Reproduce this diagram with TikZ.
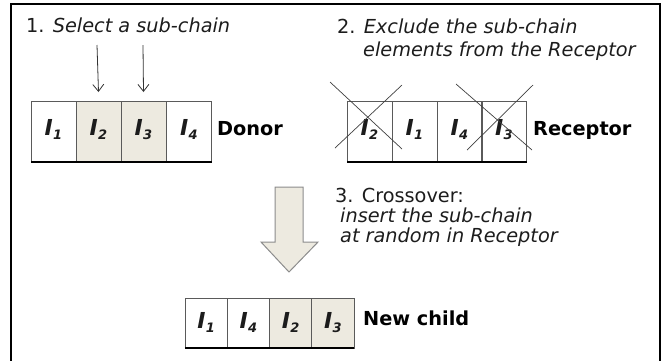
\documentclass[tikz,border=0pt]{standalone}
\usepackage{fontspec}
\setmainfont{DejaVu Sans}
\usetikzlibrary{arrows.meta}
\definecolor{shade}{HTML}{EDEAE0}
\definecolor{txt}{HTML}{1C1C1C}
\definecolor{cellline}{HTML}{5A5A5A}
\newcommand\elem[2][8pt]{\raisebox{#1}{I\kern0.3pt\raisebox{-3.5pt}{\fontsize{13}{13}\selectfont #2}}}
\begin{document}
\begin{tikzpicture}[x=1pt,y=-1pt,
  cell/.style={draw=cellline, line width=0.8pt, minimum width=45pt, minimum height=61pt,
    inner sep=0pt, outer sep=0pt, text=txt, font=\fontsize{22}{22}\selectfont\bfseries\itshape},
  childcell/.style={cell, minimum width=42.25pt, minimum height=50pt},
  shaded/.style={fill=shade},
  basebar/.style={line width=2.4pt, black},
  stepnote/.style={inner sep=0pt, anchor=base west, text=txt, font=\fontsize{19.3}{23}\selectfont},
  rowlabel/.style={inner sep=0pt, anchor=base west, text=black, font=\fontsize{19.3}{23}\selectfont\bfseries},
  pick/.style={draw=black!80, line width=0.8pt, -{Straight Barb[length=7pt,width=11pt]}},
  cross/.style={draw=black!75, line width=0.7pt},
  bigarrow/.style={fill=shade, draw=black!45, line width=1pt},
  frame/.style={line width=2.2pt, black}]
\useasboundingbox (0,0) rectangle (663,360);
\draw[frame] (11,361) -- (11,4) -- (660,4) -- (660,361);

% step 1
\node[stepnote] (t1) at (26,32) {1. \textit{Select a sub-chain}};
\node[cell] (d1) at (53.5,131.5) {\elem{1}};
\node[cell, shaded] (d2) at (98.5,131.5) {\elem{2}};
\node[cell, shaded] (d3) at (143.5,131.5) {\elem{3}};
\node[cell] (d4) at (189,131.5) {\elem{4}};
\draw[basebar] (d1.south west) -- (d4.south east);
\node[rowlabel] (donor) at (217,135) {Donor};
\coordinate (p2) at (97,45);
\coordinate (p3) at (143,45);
\draw[pick] (p2) -- ([yshift=9pt]d2.north);
\draw[pick] (p3) -- ([yshift=9pt]d3.north);

% step 2
\node[stepnote] (t2a) at (337,33) {2. \textit{Exclude the sub-chain}};
\node[stepnote] (t2b) at (363,56) {\textit{elements from the Receptor}};
\node[cell] (r1) at (369.5,131.5) {\elem{2}};
\node[cell] (r2) at (414.5,131.5) {\elem{1}};
\node[cell] (r3) at (459.5,131.5) {\elem{4}};
\node[cell] (r4) at (504,131.5) {\elem{3}};
\draw[basebar] (r1.south west) -- (r4.south east);
\node[rowlabel] (receptor) at (533,135) {Receptor};
\draw[cross] (330,82) -- (402,149);
\draw[cross] (402,85) -- (335,148);
\draw[cross] (456,84) -- (532,150);
\draw[cross] (533,85) -- (467,150);

% step 3
\draw[bigarrow] (275,187) -- (303,187) -- (303,242) -- (318,242) -- (289,272) -- (261,242) -- (275,242) -- cycle;
\node[stepnote] (t3a) at (335,202) {3. Crossover:};
\node[stepnote] (t3b) at (340,222) {\textit{insert the sub-chain}};
\node[stepnote] (t3c) at (340,242) {\textit{at random in Receptor}};
\node[childcell] (c1) at (206.1,323) {\elem[5pt]{1}};
\node[childcell] (c2) at (248.4,323) {\elem[5pt]{4}};
\node[childcell, shaded] (c3) at (290.6,323) {\elem[5pt]{2}};
\node[childcell, shaded] (c4) at (332.9,323) {\elem[5pt]{3}};
\draw[basebar] (c1.south west) -- (c4.south east);
\node[rowlabel] (child) at (363,325) {New child};
\end{tikzpicture}
\end{document}
